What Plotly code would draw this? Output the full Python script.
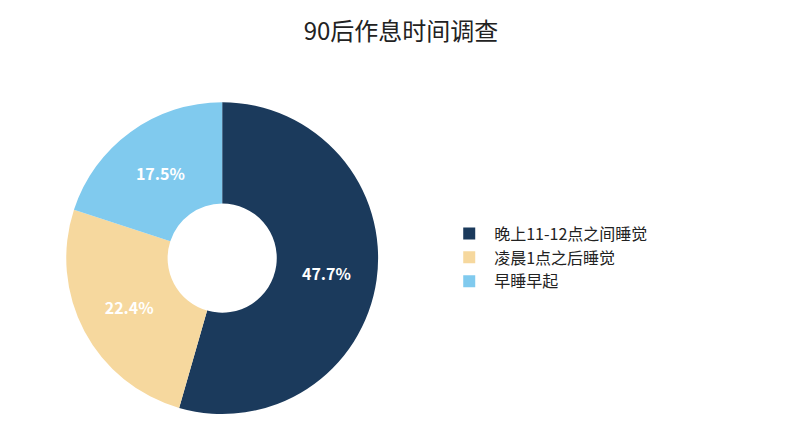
import plotly.graph_objects as go

labels = ["晚上11-12点之间睡觉", "凌晨1点之后睡觉", "早睡早起"]
values = [47.7, 22.4, 17.5]
colors = ["#1b3a5c", "#f6d89e", "#80caee"]
text_colors = ["white", "white", "white"]

fig = go.Figure(go.Pie(
    labels=labels, values=values, hole=0.35, sort=False, direction="clockwise",
    rotation=0, marker=dict(colors=colors),
    texttemplate="<b>%{value:.1f}%</b>", textposition="inside", insidetextorientation="horizontal",
    textfont=dict(color=text_colors, size=16, family="Noto Sans CJK SC"),
    domain=dict(x=[0.074, 0.471], y=[0.073, 0.785]),
))
fig.update_layout(
    width=786, height=438, margin=dict(l=0, r=0, t=0, b=0),
    paper_bgcolor="white", plot_bgcolor="white",
    font=dict(family="Noto Sans CJK SC", color="#222"),
    title=dict(text="90后作息时间调查", x=0.5, y=0.945, xanchor="center", yanchor="middle",
               font=dict(size=24, color="#222")),
    legend=dict(x=0.555, y=0.43, xanchor="left", yanchor="middle", font=dict(size=16),
                itemwidth=40),
)
fig.write_html("out.html")
